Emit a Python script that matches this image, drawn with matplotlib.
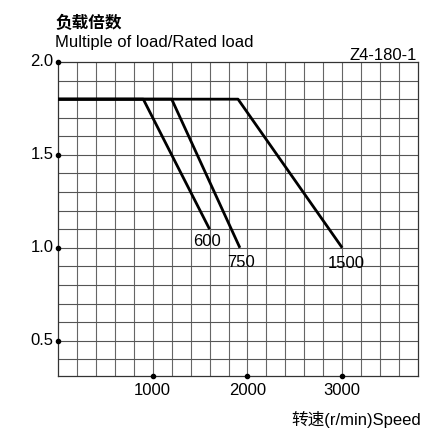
import matplotlib
matplotlib.use("Agg")
import matplotlib.pyplot as plt

plt.rcParams['font.family'] = ['Liberation Sans', 'Noto Sans CJK SC', 'DejaVu Sans']

# data
curve_labels = ["600", "750", "1500"]
curve_x = [[0, 900, 1600], [0, 1200, 1920], [0, 1900, 3000]]
curve_y = [[1.8, 1.8, 1.1], [1.8, 1.8, 1.0], [1.8, 1.8, 1.0]]
label_pos = [(1570, 1.035), (1930, 0.92), (3040, 0.915)]
xticks = [1000, 2000, 3000]
yticks = [0.5, 1.0, 1.5, 2.0]
ytick_labels = ["0.5", "1.0", "1.5", "2.0"]

fig = plt.figure(figsize=(4.25, 4.32), dpi=100)
W, H = 425, 432
ax = fig.add_axes([58 / W, 1 - 376 / H, (418 - 58) / W, (376 - 62) / H])
ax.set_xlim(0, 3800)
ax.set_ylim(0.31, 2.0)

for gx in range(200, 3800, 200):
    ax.axvline(gx, color='#666666', lw=0.8, zorder=1)
for i in range(4, 20):
    ax.axhline(i / 10, color='#555555', lw=0.8, zorder=1)

for s in ax.spines.values():
    s.set_color('#333333')
    s.set_linewidth(0.9)

for xs, ys in zip(curve_x, curve_y):
    ax.plot(xs, ys, color='black', lw=2.0, zorder=3, solid_capstyle='butt')

for lab, (lx, ly) in zip(curve_labels, label_pos):
    ax.text(lx, ly, lab, fontsize=12, ha='center', va='center', zorder=4)

ax.set_xticks([])
ax.set_yticks([])
ax.plot([0] * len(yticks), yticks, 'o', color='black', ms=3, clip_on=False, zorder=5)
ax.plot(xticks, [0.31] * len(xticks), 'o', color='black', ms=3, clip_on=False, zorder=5)
for y, t in zip(yticks, ytick_labels):
    ax.text(-45, y, t, fontsize=12, ha='right', va='center')
for x in xticks:
    ax.text(x, 0.31 - 0.08, str(x), fontsize=12, ha='center', va='center')

fig.text(55 / W, 1 - 23 / H, "负载倍数", fontsize=12, fontweight='bold',
         ha='left', va='center', family=['Noto Sans CJK SC'])
fig.text(55 / W, 1 - 42 / H, "Multiple of load/Rated load", fontsize=12,
         ha='left', va='center')
fig.text(417 / W, 1 - 55 / H, "Z4-180-1", fontsize=12, ha='right', va='center')
fig.text(421 / W, 1 - 419 / H, "转速(r/min)Speed", fontsize=12, ha='right',
         va='center', family=['Liberation Sans', 'Noto Sans CJK SC'])

fig.savefig("out.png", dpi=100)
